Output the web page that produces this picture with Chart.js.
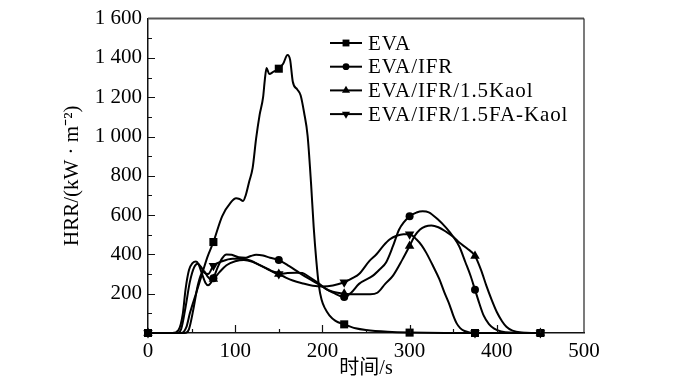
<!DOCTYPE html>
<html>
<head>
<meta charset="utf-8">
<script src="https://cdn.jsdelivr.net/npm/chart.js@4/dist/chart.umd.min.js"></script>
<style>
  html, body { margin: 0; background: #fff; }
  #wrap { width: 700px; height: 387px; }
</style>
</head>
<body>
<div id="wrap"><canvas id="hrrChart" width="700" height="387"></canvas></div>
<script>
// series names and marker look
const seriesNames = ["EVA", "EVA/IFR", "EVA/IFR/1.5Kaol", "EVA/IFR/1.5FA-Kaol"];
const markerStyles = ["rect", "circle", "triangle", "triangle"];
const markerRotation = [0, 0, 0, 180];
const markerSize = [5.7, 4, 5.5, 5.5];

// markers are only shown every 75 s
const markerTimes = [0, 75, 150, 225, 300, 375, 450];

// [time s, HRR kW/m2]
const evaData = [[0,0],[38,0],[44,30],[48,100],[55,200],[62,300],[68,385],[75,463],[85,594],[95,665],
  [101,686],[105,682],[109,672],[112,700],[116,770],[120,840],[124,990],[128,1110],[132,1200],[134,1290],
  [136,1348],[139,1318],[144,1330],[150,1345],[155,1370],[160,1415],[163,1390],[166,1280],[171,1240],[175,1210],
  [179,1122],[183,1005],[187,760],[190,540],[193,370],[196,240],[199,170],[203,125],[208,90],[215,62],
  [225,44],[238,24],[250,15],[275,6],[300,2],[340,0],[375,0],[450,0]];

const ifrData = [[0,0],[28,0],[35,15],[40,100],[43,220],[47,320],[51,355],[55,364],[58,350],[62,300],
  [66,255],[69,243],[72,255],[75,278],[80,335],[85,380],[90,400],[96,398],[104,385],[112,383],
  [118,392],[124,398],[132,394],[140,383],[150,371],[162,340],[174,305],[185,275],[195,250],[205,222],
  [212,206],[225,183],[233,205],[242,250],[258,292],[266,325],[273,359],[281,443],[288,527],[300,594],
  [308,613],[315,619],[322,614],[332,580],[342,535],[350,490],[357,440],[364,360],[370,290],[375,220],
  [380,150],[385,88],[391,45],[397,22],[405,8],[415,2],[450,0]];

const kaolData = [[0,0],[42,0],[47,20],[52,120],[57,240],[61,300],[64,315],[68,290],[72,272],[75,275],
  [82,310],[90,345],[100,365],[110,372],[120,362],[135,330],[150,300],[160,305],[170,307],[177,305],
  [185,285],[195,255],[204,225],[212,210],[225,200],[240,197],[255,197],[263,205],[272,250],[281,292],
  [292,376],[300,443],[306,495],[312,527],[318,542],[325,547],[333,538],[342,515],[350,490],[357,460],
  [366,430],[375,392],[382,320],[388,241],[394,170],[400,107],[406,60],[411,32],[418,12],[428,3],[450,0]];

const faKaolData = [[0,0],[33,0],[38,20],[43,130],[48,260],[53,335],[57,352],[61,335],[65,305],[69,300],
  [75,342],[85,365],[97,378],[108,378],[118,368],[128,345],[140,320],[150,300],[158,282],[166,267],
  [178,252],[189,241],[200,237],[212,242],[225,258],[235,280],[242,300],[254,367],[262,401],[270,445],
  [277,476],[285,495],[293,503],[300,502],[308,476],[314,445],[319,409],[327,340],[334,275],[340,205],
  [346,141],[350,90],[354,49],[358,25],[363,10],[375,0],[450,0]];

const allSeries = [evaData, ifrData, kaolData, faKaolData];

// axes
const xMin = 0, xMax = 500, xStep = 100, xMinorStep = 50;
const yMin = 0, yMax = 1600, yStep = 200, yMinorStep = 100;
const xTitle = "时间/s";
const yTitle = "HRR/(kW · m⁻²)";

const serif = "'Liberation Serif', 'Times New Roman', 'Noto Sans CJK SC', serif";

function fmtThousands(v) {
  if (v >= 1000) return Math.floor(v / 1000) + " " + String(v % 1000).padStart(3, "0");
  return String(v);
}

function drawMarker(ctx, style, rot, r, x, y) {
  ctx.beginPath();
  if (style === "rect") {
    const s = r * Math.SQRT1_2;
    ctx.rect(x - s, y - s, 2 * s, 2 * s);
  } else if (style === "circle") {
    ctx.arc(x, y, r, 0, Math.PI * 2);
  } else {
    let a = rot * Math.PI / 180;
    ctx.moveTo(x + Math.sin(a) * r, y - Math.cos(a) * r);
    a += Math.PI * 2 / 3;
    ctx.lineTo(x + Math.sin(a) * r, y - Math.cos(a) * r);
    a += Math.PI * 2 / 3;
    ctx.lineTo(x + Math.sin(a) * r, y - Math.cos(a) * r);
    ctx.closePath();
  }
  ctx.fill();
}

// frame, inward ticks and legend
const decorPlugin = {
  id: "decor",
  afterDraw(chart) {
    const ctx = chart.ctx;
    const a = chart.chartArea;
    const xs = chart.scales.x, ys = chart.scales.y;
    ctx.save();
    // top and right frame
    ctx.strokeStyle = "#555";
    ctx.lineWidth = 2;
    ctx.beginPath();
    ctx.moveTo(a.left, a.top);
    ctx.lineTo(a.right, a.top);
    ctx.stroke();
    ctx.strokeStyle = "#222";
    ctx.lineWidth = 1.2;
    ctx.beginPath();
    ctx.moveTo(a.right, a.top);
    ctx.lineTo(a.right, a.bottom);
    ctx.stroke();

    // ticks pointing inwards
    ctx.strokeStyle = "#111";
    ctx.lineWidth = 1.2;
    ctx.beginPath();
    for (let v = xMin + xMinorStep; v < xMax; v += xMinorStep) {
      const px = Math.round(xs.getPixelForValue(v)) + 0.5;
      const len = v % xStep === 0 ? 8 : 4;
      ctx.moveTo(px, a.bottom);
      ctx.lineTo(px, a.bottom - len);
    }
    for (let v = yMin + yMinorStep; v < yMax; v += yMinorStep) {
      const py = Math.round(ys.getPixelForValue(v)) + 0.5;
      const len = v % yStep === 0 ? 7 : 4;
      ctx.moveTo(a.left, py);
      ctx.lineTo(a.left + len, py);
    }
    ctx.stroke();

    // legend
    ctx.font = "21px " + serif;
    if ("letterSpacing" in ctx) ctx.letterSpacing = "0.9px";
    ctx.textBaseline = "middle";
    ctx.textAlign = "left";
    ctx.fillStyle = "#000";
    ctx.strokeStyle = "#000";
    ctx.lineWidth = 2;
    seriesNames.forEach((name, i) => {
      const y = 43 + i * 23.7;
      ctx.beginPath();
      ctx.moveTo(330, y);
      ctx.lineTo(362, y);
      ctx.stroke();
      drawMarker(ctx, markerStyles[i], markerRotation[i], markerSize[i] * 0.85, 346, y);
      ctx.fillText(name, 368, y + 1);
    });
    ctx.restore();
  }
};

const datasets = allSeries.map((series, i) => ({
  label: seriesNames[i],
  data: series.map(([t, v]) => ({ x: t, y: v })),
  borderColor: "#000",
  backgroundColor: "#000",
  borderWidth: 2,
  clip: false,
  cubicInterpolationMode: "monotone",
  pointStyle: markerStyles[i],
  rotation: markerRotation[i],
  pointRadius: ctx => markerTimes.includes(ctx.raw.x) ? markerSize[i] : 0,
  pointBorderWidth: 0,
  pointHoverRadius: 0
}));

new Chart(document.getElementById("hrrChart"), {
  type: "line",
  data: { datasets },
  options: {
    responsive: false,
    animation: false,
    devicePixelRatio: 1,
    layout: { padding: { left: 0, right: 116, top: 15, bottom: 0 } },
    plugins: { legend: { display: false }, tooltip: { enabled: false } },
    scales: {
      x: {
        type: "linear",
        min: xMin, max: xMax,
        afterFit: s => { s.height = 54; },
        grid: { display: false, drawTicks: false },
        border: { display: true, color: "#111", width: 1.5 },
        ticks: {
          stepSize: xStep, padding: 6, color: "#000", maxRotation: 0,
          font: { family: serif, size: 21 }
        },
        title: {
          display: true, text: xTitle, color: "#000",
          font: { family: serif, size: 20 },
          padding: { top: 0, bottom: 6 }
        }
      },
      y: {
        min: yMin, max: yMax,
        afterFit: s => { s.width = 148; },
        grid: { display: false, drawTicks: false },
        border: { display: true, color: "#111", width: 1.5 },
        ticks: {
          stepSize: yStep, padding: 6, color: "#000",
          font: { family: serif, size: 21 },
          callback: v => v === 0 ? "" : fmtThousands(v)
        },
        title: {
          display: true, text: yTitle, color: "#000",
          font: { family: serif, size: 21 },
          padding: { top: 60, bottom: 0 }
        }
      }
    }
  },
  plugins: [decorPlugin]
});
</script>
</body>
</html>
